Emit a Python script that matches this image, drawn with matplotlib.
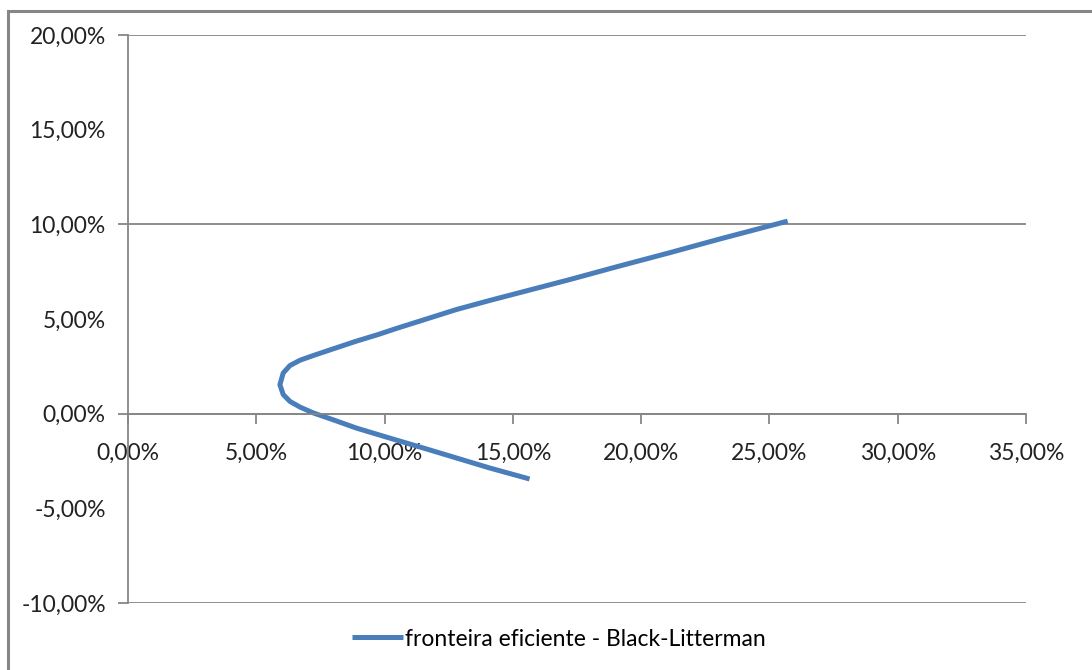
import matplotlib.pyplot as plt
from matplotlib.patches import Rectangle
from matplotlib.ticker import FuncFormatter, MultipleLocator, FixedLocator

# efficient frontier (risk %, return %), from the low-return end up to the top
risk = [15.65, 14.10, 12.80, 11.50, 10.20, 8.90, 7.99, 7.22, 6.70,
        6.31, 6.05, 5.92, 6.05, 6.31, 6.70, 7.22, 7.99, 8.90, 9.75,
        10.46, 11.63, 12.80, 14.10, 15.26, 17.21, 19.16, 21.11, 23.05, 25.71]
ret = [-3.45, -2.87, -2.34, -1.81, -1.29, -0.76, -0.32, 0.04, 0.35,
       0.65, 1.01, 1.53, 2.15, 2.54, 2.82, 3.07, 3.42, 3.83, 4.18,
       4.50, 5.00, 5.50, 5.98, 6.39, 7.08, 7.80, 8.50, 9.22, 10.17]
series_label = "fronteira eficiente - Black-Litterman"

GREY = "#868686"
BLUE = "#4a7ebb"
FS = 16.5

plt.rcParams['font.family'] = ['Lato', 'DejaVu Sans']


def pct(v, pos=None):
    return f"{v:.2f}%".replace('.', ',')


fig = plt.figure(figsize=(10.92, 6.70), dpi=100)
ax = fig.add_axes([128 / 1092, 1 - 603 / 670, (1026 - 128) / 1092, (603 - 35) / 670])

line, = ax.plot(risk, ret, color=BLUE, lw=3.6, solid_capstyle='butt',
                solid_joinstyle='round', label=series_label)

ax.set_xlim(0, 35)
ax.set_ylim(-10, 20)

# x axis crosses at zero return
ax.spines['bottom'].set_position(('data', 0))
ax.spines['top'].set_visible(False)
ax.spines['right'].set_visible(False)
for s in ('left', 'bottom'):
    ax.spines[s].set_color(GREY)
    ax.spines[s].set_linewidth(1.3)

ax.xaxis.set_major_locator(MultipleLocator(5))
ax.xaxis.set_major_formatter(FuncFormatter(pct))
ax.tick_params(axis='x', direction='out', length=7, width=1.3, color=GREY,
               pad=14, labelsize=FS, labelcolor='#222222')

ax.yaxis.set_major_locator(MultipleLocator(10))
ax.yaxis.set_minor_locator(FixedLocator([-5, 5, 15]))
ax.yaxis.set_major_formatter(FuncFormatter(pct))
ax.yaxis.set_minor_formatter(FuncFormatter(pct))
ax.tick_params(axis='y', which='major', direction='out', length=7, width=1.3,
               color=GREY, pad=9, labelsize=FS, labelcolor='#222222')
ax.tick_params(axis='y', which='minor', length=0, pad=16, labelsize=FS,
               labelcolor='#222222')

ax.yaxis.grid(True, which='major', color=GREY, lw=1.3)
ax.set_axisbelow(True)

fig.legend(handles=[line], loc='center', bbox_to_anchor=(559 / 1092, 1 - 639 / 670),
           frameon=False, fontsize=FS, handlelength=2.2, handletextpad=0.1)

# outer chart border
fig.patches.append(Rectangle((8 / 1092, -0.1), 1.2, 1.1 - 11 / 670,
                             transform=fig.transFigure, fill=False,
                             edgecolor=GREY, lw=2.2))

fig.savefig("out.png", dpi=100, facecolor='white')
